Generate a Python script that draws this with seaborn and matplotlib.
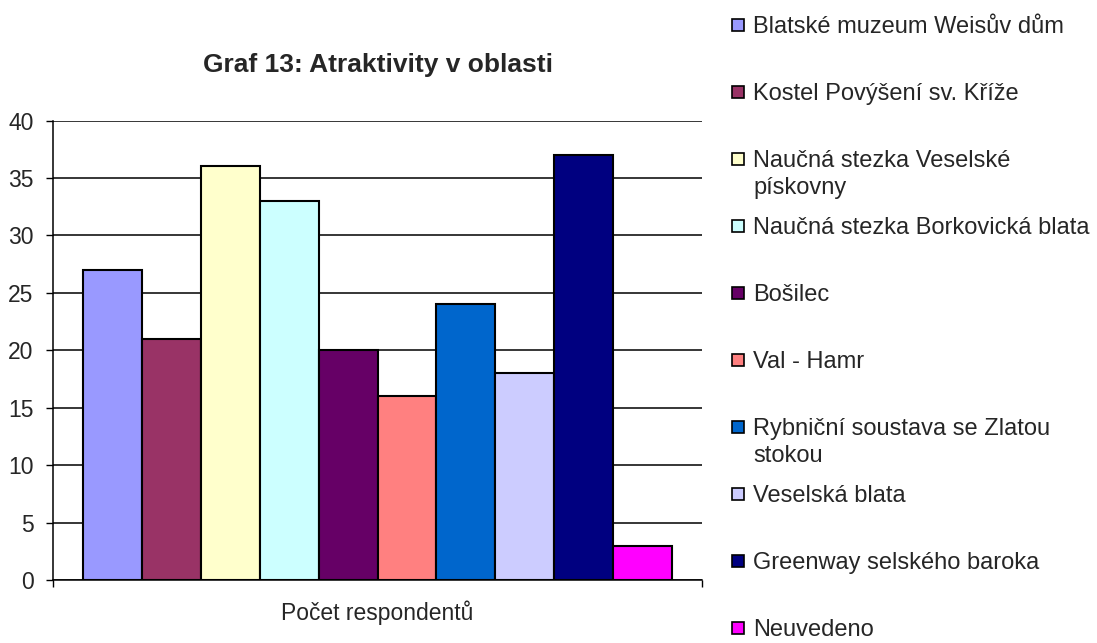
import matplotlib
matplotlib.use("Agg")
import matplotlib.pyplot as plt
import matplotlib.patches as mpatches
import seaborn as sns
import pandas as pd

# data
categories = ['Blatské muzeum Weisův dům', 'Kostel Povýšení sv. Kříže',
              'Naučná stezka Veselské\npískovny', 'Naučná stezka Borkovická blata',
              'Bošilec', 'Val - Hamr', 'Rybniční soustava se Zlatou\nstokou',
              'Veselská blata', 'Greenway selského baroka', 'Neuvedeno']
values = [27, 21, 36, 33, 20, 16, 24, 18, 37, 3]
colors = ['#9999FF', '#993366', '#FFFFCC', '#CCFFFF', '#660066',
          '#FF8080', '#0066CC', '#CCCCFF', '#000080', '#FF00FF']
group_label = 'Počet respondentů'

df = pd.DataFrame({'group': [group_label] * len(values),
                   'atraktivita': categories,
                   'count': values})

sns.set_style('white')
plt.rcParams['font.family'] = ['Liberation Sans', 'DejaVu Sans']

W, H = 1097, 643
fig = plt.figure(figsize=(W / 100, H / 100), dpi=100)
ax = fig.add_axes([53 / W, 1 - 580 / H, 649 / W, 459.5 / H])

sns.barplot(data=df, x='group', y='count', hue='atraktivita',
            palette=colors, saturation=1, width=0.908, edgecolor='black',
            linewidth=1.5, legend=False, ax=ax, zorder=3)

ax.set_ylim(0, 40)
ax.set_xlim(-0.5, 0.5)
ax.set_yticks(range(0, 41, 5))
ax.yaxis.grid(True, color='black', linewidth=1.1)
ax.set_axisbelow(True)
for s in ['top', 'right']:
    ax.spines[s].set_visible(False)
for s in ['left', 'bottom']:
    ax.spines[s].set_color('black')
    ax.spines[s].set_linewidth(1.1)
ax.tick_params(axis='y', length=5, width=1, color='black', labelsize=16.5, pad=9, left=True)
ax.tick_params(axis='x', length=0, labelsize=16.5, pad=15)
ax.set_xticks([-0.5, 0.5], minor=True)
ax.tick_params(axis='x', which='minor', length=5, width=1, color='black', bottom=True)
ax.set_xlabel('')
ax.set_ylabel('')

fig.text(378 / W, 1 - 72 / H, 'Graf 13: Atraktivity v oblasti', ha='center',
         va='baseline', fontsize=19, fontweight='bold')

# legend on the right, evenly spaced entries
for i, (name, col) in enumerate(zip(categories, colors)):
    yc = 25 + i * 67
    fig.patches.append(mpatches.Rectangle((732 / W, 1 - (yc + 6) / H), 12 / W, 12 / H,
                                          transform=fig.transFigure, facecolor=col,
                                          edgecolor='black', linewidth=1.2))
    for k, line in enumerate(name.split('\n')):
        fig.text(753 / W, 1 - (yc + 8 + k * 27) / H, line, ha='left',
                 va='baseline', fontsize=17)

fig.savefig('out.png', dpi=100)
